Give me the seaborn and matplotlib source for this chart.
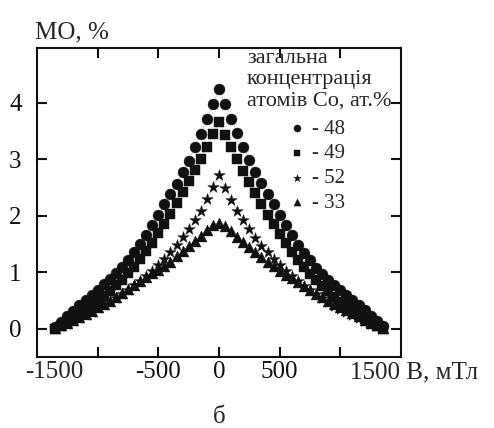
import matplotlib.pyplot as plt
import seaborn as sns

# magnetic field, mT
field_mT = [-1350, -1300, -1250, -1200, -1150, -1100, -1050, -1000, -950, -900,
            -850, -800, -750, -700, -650, -600, -550, -500, -450, -400,
            -350, -300, -250, -200, -150, -100, -50, 0,
            50, 100, 150, 200, 250, 300, 350, 400, 450, 500,
            550, 600, 650, 700, 750, 800, 850, 900, 950, 1000,
            1050, 1100, 1150, 1200, 1250, 1300, 1350]

# magnetoresistance, % (Co 48 at.%)
mo_48 = [0.03, 0.12, 0.22, 0.32, 0.42, 0.51, 0.60, 0.69, 0.79, 0.88,
         0.98, 1.09, 1.22, 1.35, 1.50, 1.66, 1.84, 2.02, 2.20, 2.38,
         2.57, 2.77, 2.97, 3.21, 3.45, 3.71, 3.97, 4.25,
         3.98, 3.72, 3.46, 3.22, 2.98, 2.78, 2.58, 2.38, 2.20, 2.02,
         1.84, 1.66, 1.49, 1.34, 1.21, 1.08, 0.97, 0.87, 0.78, 0.69,
         0.60, 0.51, 0.42, 0.33, 0.23, 0.13, 0.04]

mo_49 = [0.00, 0.05, 0.11, 0.18, 0.25, 0.33, 0.41, 0.49, 0.58, 0.67,
         0.77, 0.87, 0.98, 1.10, 1.23, 1.37, 1.52, 1.69, 1.86, 2.03,
         2.22, 2.42, 2.62, 2.81, 3.01, 3.22, 3.44, 3.66,
         3.43, 3.21, 3.00, 2.80, 2.60, 2.40, 2.20, 2.02, 1.85, 1.68,
         1.51, 1.36, 1.22, 1.09, 0.97, 0.86, 0.76, 0.66, 0.57, 0.48,
         0.40, 0.32, 0.25, 0.18, 0.11, 0.05, 0.00]

mo_52 = [0.01, 0.05, 0.09, 0.14, 0.19, 0.24, 0.30, 0.36, 0.42, 0.48,
         0.55, 0.62, 0.69, 0.77, 0.85, 0.94, 1.03, 1.13, 1.24, 1.36,
         1.48, 1.62, 1.77, 1.93, 2.09, 2.29, 2.51, 2.72,
         2.50, 2.28, 2.08, 1.92, 1.76, 1.61, 1.47, 1.35, 1.23, 1.12,
         1.02, 0.93, 0.84, 0.76, 0.68, 0.61, 0.54, 0.47, 0.41, 0.35,
         0.29, 0.24, 0.19, 0.14, 0.09, 0.05, 0.01]

mo_33 = [0.02, 0.06, 0.11, 0.16, 0.21, 0.26, 0.32, 0.38, 0.44, 0.50,
         0.57, 0.63, 0.70, 0.77, 0.84, 0.91, 0.98, 1.04, 1.11, 1.19,
         1.28, 1.37, 1.46, 1.55, 1.64, 1.74, 1.83, 1.88,
         1.82, 1.73, 1.63, 1.54, 1.45, 1.36, 1.27, 1.19, 1.11, 1.03,
         0.96, 0.89, 0.82, 0.76, 0.69, 0.62, 0.56, 0.50, 0.44, 0.38,
         0.33, 0.27, 0.22, 0.16, 0.11, 0.06, 0.02]

series = [mo_48, mo_49, mo_52, mo_33]
series_labels = ["- 48", "- 49", "- 52", "- 33"]
series_markers = ["o", "s", "*", "^"]
marker_sizes = [62, 48, 75, 62]

sns.set_theme(style="ticks")
plt.rcParams["font.family"] = ["Liberation Serif", "DejaVu Serif"]

fig = plt.figure(figsize=(4.94, 4.28), dpi=100)
ax = fig.add_axes([0.0749, 0.1659, 0.7368, 0.722])

for values, label, marker, size in zip(series, series_labels, series_markers, marker_sizes):
    ax.plot(field_mT, values, color="#c8c8c8", lw=0.5, zorder=1)
    sns.scatterplot(x=field_mT, y=values, marker=marker, s=size, color="#111111",
                    edgecolor="#111111", linewidth=0.3, label=label, ax=ax, zorder=3)

ax.set_xlim(-1500, 1500)
ax.set_ylim(-0.5, 4.97)
ax.set_xticks([-1000, -500, 0, 500, 1000])
ax.set_xticklabels(["", "-500", "0", "500", ""])
ax.set_yticks([0, 1, 2, 3, 4])
ax.tick_params(direction="in", length=7, width=1.5, top=True, right=True,
               labelsize=18, colors="#111111")
ax.tick_params(axis="x", pad=3)
ax.tick_params(axis="y", pad=11)
for spine in ax.spines.values():
    spine.set_linewidth(1.5)
    spine.set_color("#111111")

# end labels sit inside the axis range in the original
ax.annotate("-1500", xy=(-1360, 0), xycoords=("data", "axes fraction"),
            xytext=(0, -3), textcoords="offset points", ha="center", va="top", fontsize=18)
ax.annotate("1500 B, мТл", xy=(1080, 0), xycoords=("data", "axes fraction"),
            xytext=(0, -3), textcoords="offset points", ha="left", va="top", fontsize=18,
            annotation_clip=False)

fig.text(35 / 494, 1 - 38 / 428, "МО, %", fontsize=18, ha="left", va="baseline")
fig.text(219 / 494, 1 - 417 / 428, "б", fontsize=18, ha="center", va="center")

fig.text(247 / 494, 1 - 49 / 428, "загальна\nконцентрація\nатомів Co, ат.%",
         fontsize=16, ha="left", va="top", linespacing=1.15)

ax.legend(loc="upper left", bbox_to_anchor=(291 / 494, 1 - 119 / 428),
          bbox_transform=fig.transFigure, frameon=False, fontsize=15,
          handlelength=0.6, handletextpad=0.4, labelspacing=0.25,
          markerscale=0.65, borderpad=0, borderaxespad=0)

fig.savefig("out.png", dpi=100)
